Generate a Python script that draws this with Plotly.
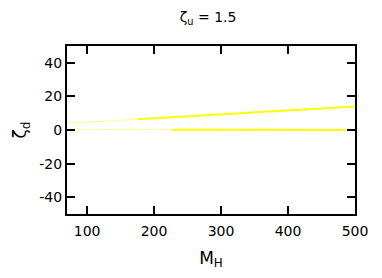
import plotly.graph_objects as go

# upper branch
up_faint_x = [70, 175]
up_faint_y = [4.0, 6.4]
up_bold_x = [175, 500]
up_bold_y = [6.4, 14.0]

# lower branch
lo_faint_x = [70, 227]
lo_faint_y = [0.4, 0.2]
lo_bold_x = [227, 486]
lo_bold_y = [0.2, 0.0]

x_ticks = [100, 200, 300, 400, 500]
y_ticks = [-40, -20, 0, 20, 40]
y_labels = ['-40', '-20', '0', '20', '40']

fig = go.Figure()
fig.add_trace(go.Scatter(x=up_faint_x, y=up_faint_y, mode='lines', line=dict(color='#ffff99', width=1)))
fig.add_trace(go.Scatter(x=lo_faint_x, y=lo_faint_y, mode='lines', line=dict(color='#ffff99', width=1)))
fig.add_trace(go.Scatter(x=up_bold_x, y=up_bold_y, mode='lines', line=dict(color='#ffff00', width=2)))
fig.add_trace(go.Scatter(x=lo_bold_x, y=lo_bold_y, mode='lines', line=dict(color='#ffff00', width=2)))

axis_style = dict(showgrid=False, zeroline=False, showline=True, linecolor='black', linewidth=2,
                  mirror='ticks', ticks='inside', ticklen=8, tickwidth=2, tickcolor='black',
                  automargin=False)

# page body adds an 8px margin, so the figure is 8px smaller
fig.update_layout(
    width=374, height=270,
    margin=dict(l=59, r=27, t=38, b=64),
    paper_bgcolor='white', plot_bgcolor='white',
    showlegend=False,
    font=dict(family='DejaVu Sans', size=14, color='black'),
    title=dict(text='ζ<sub>u</sub> = 1.5', x=0.535, xanchor='center', y=0.985, yanchor='top',
               font=dict(size=14)),
    xaxis=dict(range=[70, 500], tickvals=x_ticks, ticklabelstandoff=3,
               title=dict(text='M<sub>H</sub>', standoff=14), **axis_style),
    yaxis=dict(range=[-50, 50], tickvals=y_ticks, ticktext=y_labels,
               title=dict(text='ζ<sub>d</sub>', standoff=8), **axis_style),
)

fig.write_html("out.html")
